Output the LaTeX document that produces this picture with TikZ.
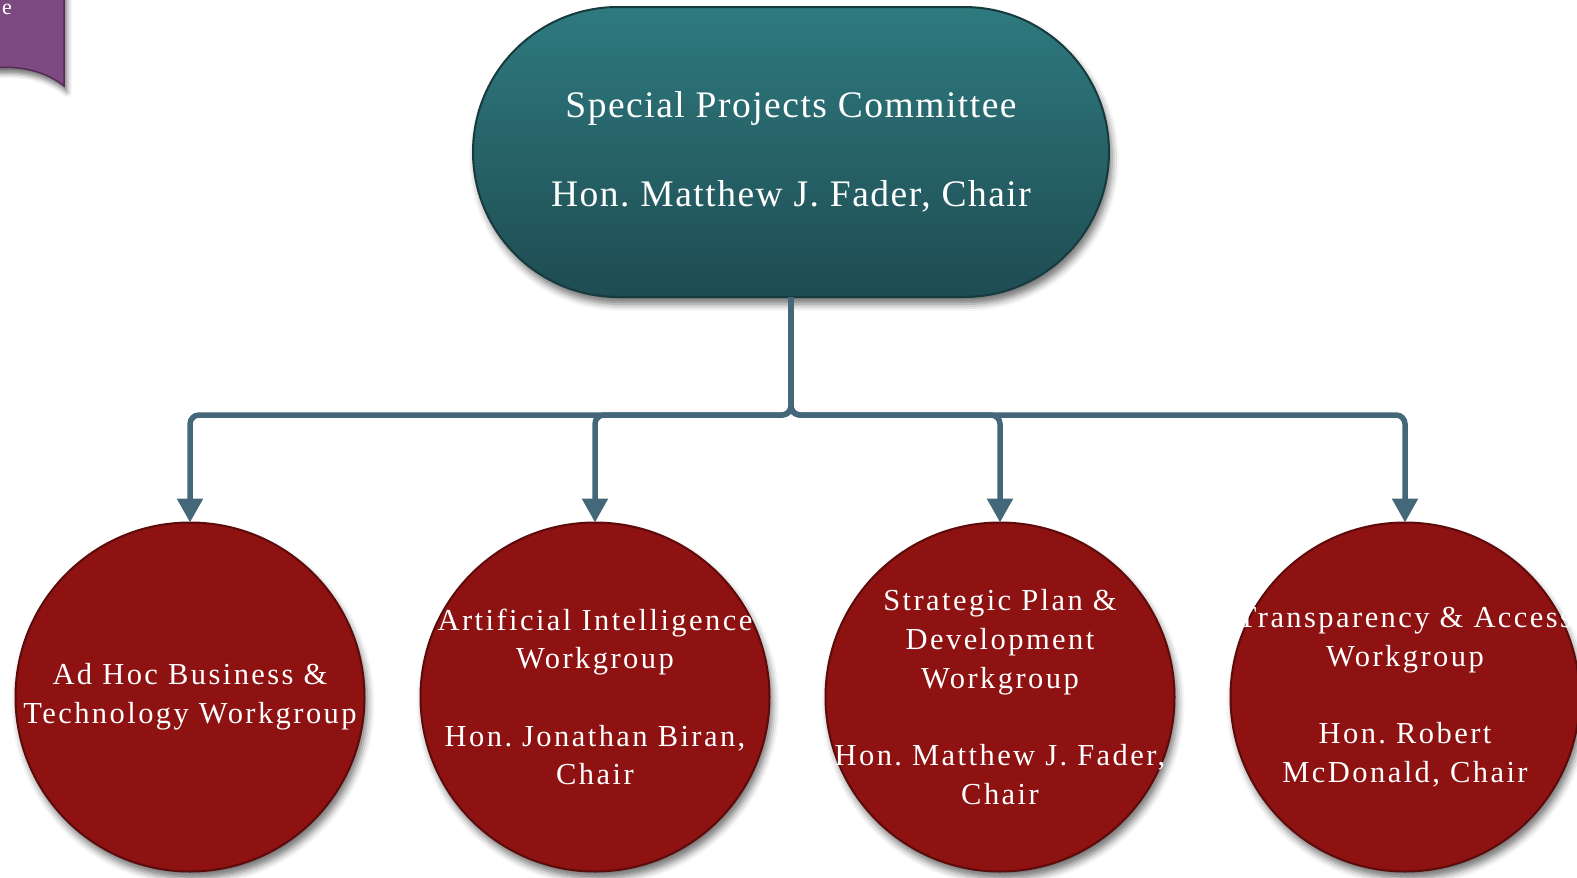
\documentclass[tikz,border=0pt]{standalone}
\usepackage{fontspec}
\setmainfont{Liberation Serif}
\newfontfamily\topfont{Liberation Serif}[LetterSpace=4]
\newfontfamily\wgfont{Liberation Serif}[LetterSpace=8]
\usetikzlibrary{positioning, arrows.meta, shadows.blur, calc}

\definecolor{tealtop}{RGB}{46,122,127}
\definecolor{tealbot}{RGB}{30,76,82}
\definecolor{tealedge}{RGB}{22,58,62}
\definecolor{wgred}{RGB}{142,18,18}
\definecolor{wgedge}{RGB}{92,10,10}
\definecolor{linkblue}{RGB}{68,103,121}
\definecolor{tabpurple}{RGB}{124,74,128}
\definecolor{tabedge}{RGB}{84,44,88}

\frenchspacing
\begin{document}
\begin{tikzpicture}[x=1pt, y=1pt,
    committee/.style={rectangle, rounded corners=145pt, minimum width=636pt,
        minimum height=290pt, inner sep=0pt, outer sep=0pt,
        top color=tealtop, bottom color=tealbot, draw=tealedge, line width=2pt,
        text=white, align=center,
        font=\topfont\fontsize{37.5}{44.5}\selectfont,
        blur shadow={shadow xshift=3pt, shadow yshift=-7pt, shadow blur radius=7pt, shadow opacity=55}},
    workgroup/.style={circle, minimum size=349pt, inner sep=0pt, outer sep=0pt,
        fill=wgred, draw=wgedge, line width=2pt,
        blur shadow={shadow xshift=3pt, shadow yshift=-7pt, shadow blur radius=7pt, shadow opacity=55}},
    wgtext/.style={inner sep=0pt, text=white, align=center,
        font=\wgfont\fontsize{30.5}{38.7}\selectfont},
    link/.style={draw=linkblue, line width=5.5pt, rounded corners=9pt,
        -{Triangle[width=25pt, length=24pt]}}]
    \useasboundingbox (0,0) rectangle (1577,-878);
    \clip (0,0) rectangle (1577,-878);

    % corner tab, mostly off the page
    \fill[tabpurple, blur shadow={shadow xshift=3pt, shadow yshift=-6pt, shadow blur radius=5pt, shadow opacity=55}]
        (-80,20) -- (64,20) -- (64,-86) .. controls (45,-71) and (20,-65) .. (-10,-68) -- (-80,-68) -- cycle;
    \draw[tabedge, line width=1.5pt] (-10,-68) .. controls (20,-65) and (45,-71) .. (64,-86) -- (64,20);
    \node[text=white, anchor=base east, inner sep=0pt, font=\fontsize{22}{26}\selectfont] (tabtext) at (12,-14) {e};

    \node[committee] (spc) at (791,-152) {Special Projects Committee\\[44.5pt]Hon. Matthew J. Fader, Chair};

    \node[workgroup] (adhoc) at (190,-697) {};
    \node[workgroup] (ai) at (595,-697) {};
    \node[workgroup] (plan) at (1000,-697) {};
    \node[workgroup] (access) at (1405,-697) {};

    \node[wgtext] (adhoctext) at (adhoc) {Ad Hoc Business \&\\Technology Workgroup};
    \node[wgtext] (aitext) at (ai) {Artificial Intelligence\\Workgroup\\[38.7pt]Hon. Jonathan Biran,\\Chair};
    \node[wgtext] (plantext) at (plan) {Strategic Plan \&\\Development\\Workgroup\\[38.7pt]Hon. Matthew J. Fader,\\Chair};
    \node[wgtext] (accesstext) at (access) {Transparency \& Access\\Workgroup\\[38.7pt]Hon. Robert\\McDonald, Chair};

    \coordinate (bus) at (791,-415);
    \foreach \wg in {adhoc, ai, plan, access}
        \draw[link] (spc.south) -- (bus) -| (\wg.north);
\end{tikzpicture}
\end{document}
